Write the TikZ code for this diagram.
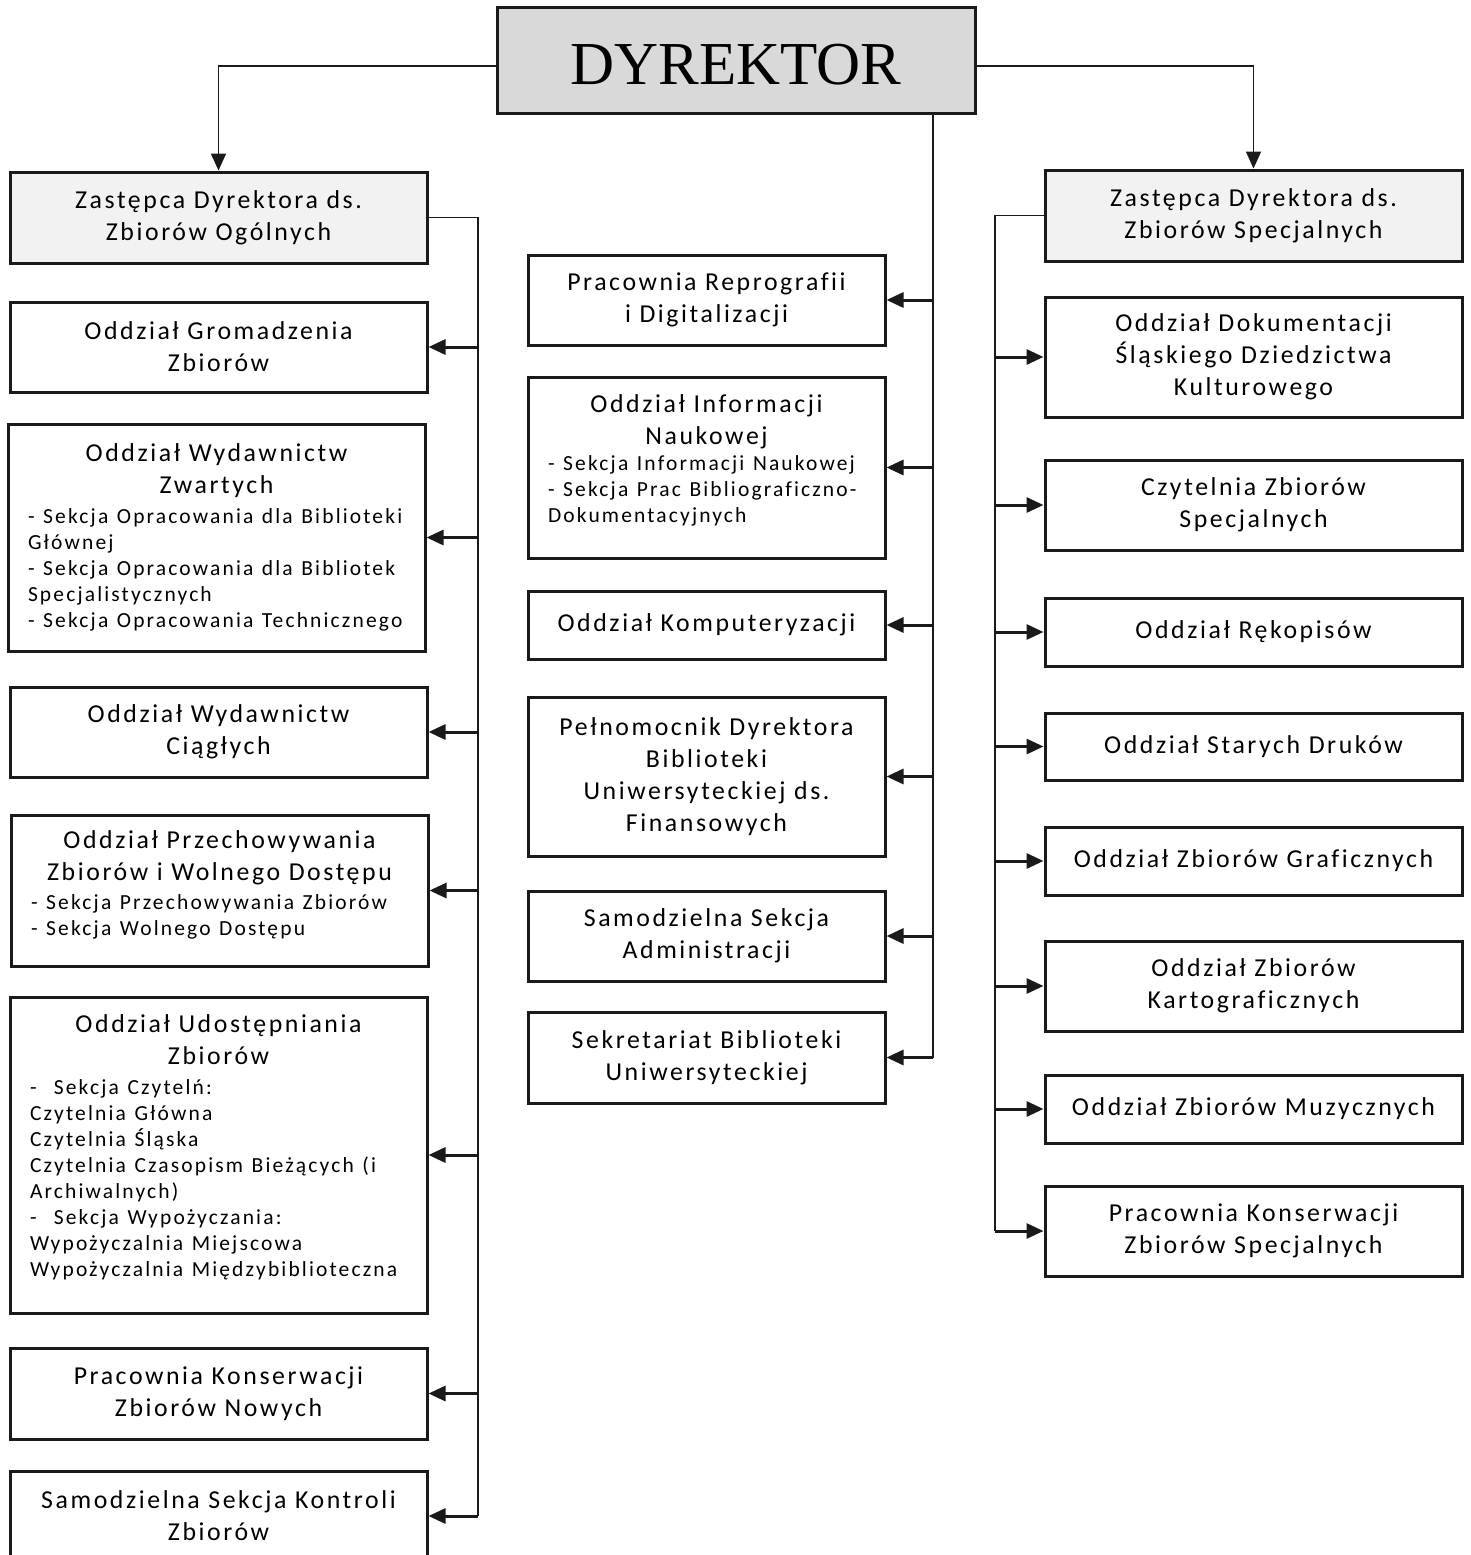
\documentclass[tikz,border=0pt]{standalone}
\usepackage{fontspec}
\setmainfont{Carlito}[LetterSpace=10.0, Ligatures={NoCommon}]
\newfontfamily\dyrfont{Liberation Serif}
\usetikzlibrary{arrows.meta}
\definecolor{dyrgray}{HTML}{D9D9D9}
\definecolor{depgray}{HTML}{F2F2F2}
\definecolor{ink}{HTML}{1A1A1A}
\newcommand\mainf{\fontsize{25.8pt}{32pt}\selectfont}
\newcommand\subf{\fontsize{21.5pt}{26pt}\selectfont}
\begin{document}
\begin{tikzpicture}[x=1pt,y=-1pt,
  box/.style={draw=ink, line width=3pt, inner sep=0pt, align=center, font=\mainf, text=black},
  lbox/.style={box, minimum width=417pt, text width=377pt},
  mbox/.style={box, minimum width=357pt, text width=317pt},
  rbox/.style={box, minimum width=417pt, text width=377pt},
  spine/.style={draw=ink, line width=1.6pt},
  tip/.style={-{Triangle[length=17pt,width=15pt]}},
  stub/.style={draw=ink, line width=3pt, tip},
  conn/.style={draw=ink, line width=1.8pt, tip},
]
\fill[white] (0,0) rectangle (1470,1555);
\useasboundingbox (0,0) rectangle (1470,1555);

% top
\node[box, fill=dyrgray, minimum width=478pt, minimum height=105pt, font=\dyrfont\fontsize{61pt}{61pt}\selectfont, text height=48pt, text depth=0pt] (dyr) at (736,60.5) {DYREKTOR};
\node[lbox, fill=depgray, minimum height=91pt] (zl) at (218.5,217.5) {Zastępca Dyrektora ds.\\Zbiorów Ogólnych};
\node[rbox, fill=depgray, minimum height=91pt] (zr) at (1253.5,215.5) {Zastępca Dyrektora ds.\\Zbiorów Specjalnych};

% left column
\node[lbox, minimum height=90pt] (grom) at (218.5,347) {Oddział Gromadzenia\\Zbiorów};
\node[lbox, minimum height=227pt] (zw) at (216.5,537.5) {Oddział Wydawnictw\\Zwartych\par\vspace{4pt}\raggedright\subf
- Sekcja Opracowania dla Biblioteki\\Głównej\\- Sekcja Opracowania dla Bibliotek\\Specjalistycznych\\- Sekcja Opracowania Technicznego\par};
\node[lbox, minimum height=90pt] (ciag) at (218.5,732) {Oddział Wydawnictw\\Ciągłych};
\node[lbox, minimum height=151pt] (przech) at (219.5,890.5) {Oddział Przechowywania\\Zbiorów i Wolnego Dostępu\par\vspace{3pt}\raggedright\subf
- Sekcja Przechowywania Zbiorów\\- Sekcja Wolnego Dostępu\par\vspace{12pt}};
\node[lbox, minimum height=316pt] (udost) at (218.5,1155) {Oddział Udostępniania\\Zbiorów\par\vspace{4pt}\raggedright\subf
-\ \ Sekcja Czytelń:\\Czytelnia Główna\\Czytelnia Śląska\\Czytelnia Czasopism Bieżących (i\\Archiwalnych)\\-\ \ Sekcja Wypożyczania:\\Wypożyczalnia Miejscowa\\Wypożyczalnia Międzybiblioteczna\par\vspace{15pt}};
\node[lbox, minimum height=91pt] (pkzn) at (218.5,1393.5) {Pracownia Konserwacji\\Zbiorów Nowych};
\node[lbox, minimum height=90pt] (kontr) at (218.5,1516) {Samodzielna Sekcja Kontroli\\Zbiorów};

% middle column
\node[mbox, minimum height=90pt] (rep) at (706.5,300) {Pracownia Reprografii\\i Digitalizacji};
\node[mbox, minimum height=181pt] (inf) at (706.5,467.5) {Oddział Informacji\\Naukowej\par\raggedright\subf
- Sekcja Informacji Naukowej\\- Sekcja Prac Bibliograficzno-\\Dokumentacyjnych\par\vspace{14pt}};
\node[mbox, minimum height=68pt] (komp) at (706.5,625) {Oddział Komputeryzacji};
\node[mbox, minimum height=159pt] (peln) at (706.5,776.5) {Pełnomocnik Dyrektora\\Biblioteki\\Uniwersyteckiej ds.\\Finansowych};
\node[mbox, minimum height=90pt] (adm) at (706.5,936) {Samodzielna Sekcja\\Administracji};
\node[mbox, minimum height=91pt] (sekr) at (706.5,1057.5) {Sekretariat Biblioteki\\Uniwersyteckiej};

% right column
\node[rbox, minimum height=120pt] (dok) at (1253.5,357) {Oddział Dokumentacji\\Śląskiego Dziedzictwa\\Kulturowego};
\node[rbox, minimum height=90pt] (czyt) at (1253.5,505) {Czytelnia Zbiorów\\Specjalnych};
\node[rbox, minimum height=68pt] (rek) at (1253.5,632) {Oddział Rękopisów};
\node[rbox, minimum height=67pt] (stare) at (1253.5,746.5) {Oddział Starych Druków};
\node[rbox, minimum height=68pt] (graf) at (1253.5,861) {Oddział Zbiorów Graficznych};
\node[rbox, minimum height=90pt] (kart) at (1253.5,986) {Oddział Zbiorów\\Kartograficznych};
\node[rbox, minimum height=68pt] (muz) at (1253.5,1109) {Oddział Zbiorów Muzycznych};
\node[rbox, minimum height=90pt] (pkzs) at (1253.5,1231) {Pracownia Konserwacji\\Zbiorów Specjalnych};

% connectors
\coordinate (yd) at (0,66);
\coordinate (lx) at (478,0);
\coordinate (mx) at (933,0);
\coordinate (rx) at (995,0);
\draw[conn] (dyr.west |- yd) -| (zl.north);
\draw[conn] (dyr.east |- yd) -| (zr.north);

\draw[spine] (zl.east) -- (zl.east -| lx) -- (lx |- kontr.east);
\foreach \n in {grom,zw,ciag,przech,udost,pkzn,kontr}
  \draw[stub] (lx |- \n.east) -- (\n.east);

\draw[spine] (dyr.south -| mx) -- (mx |- sekr.east);
\foreach \n in {rep,inf,komp,peln,adm,sekr}
  \draw[stub] (mx |- \n.east) -- (\n.east);

\draw[spine] (zr.west) -- (zr.west -| rx) -- (rx |- pkzs.west);
\foreach \n in {dok,czyt,rek,stare,graf,kart,muz,pkzs}
  \draw[stub] (rx |- \n.west) -- (\n.west);
\end{tikzpicture}
\end{document}
